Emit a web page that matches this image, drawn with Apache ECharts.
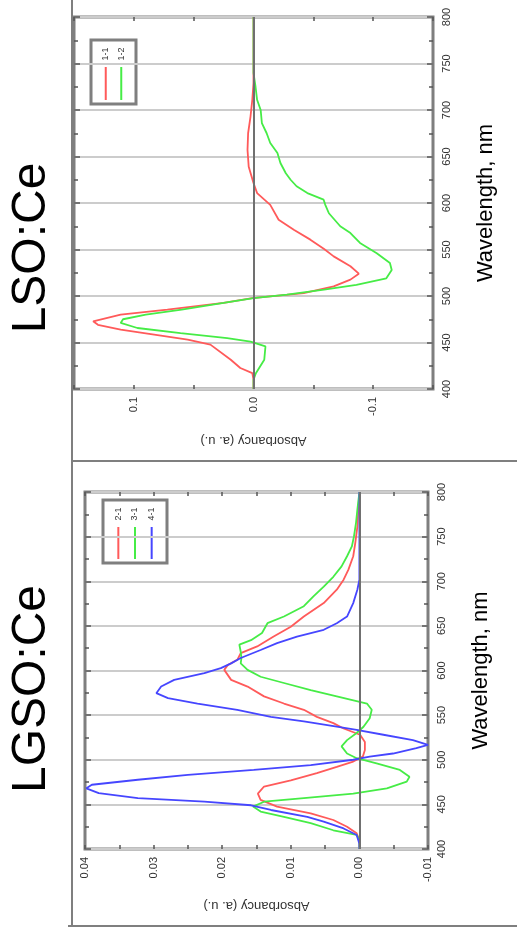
<!DOCTYPE html>
<html>
<head>
<meta charset="utf-8">
<script src="https://cdn.jsdelivr.net/npm/echarts@6/dist/echarts.min.js"></script>
<style>
html,body{margin:0;padding:0;background:#fff;}
#chart{width:517px;height:936px;}
</style>
</head>
<body>
<div id="chart"></div>
<script>
// ---- LSO:Ce panel ----
const lsoRedWl = [400,410,417,422.6,431.5,447.7,453,458.4,463.8,469,472.8,480,485.3,492.5,497.8,503,510.4,517.6,524,532,542.6,550.5,560.6,571,582,598,610.7,621.5,639,657,675,693,711,729,760,800];
const lsoRed   = [0,0,0.001,0.011,0.019,0.036,0.055,0.083,0.111,0.130,0.134,0.111,0.072,0.025,0.001,-0.042,-0.067,-0.081,-0.088,-0.081,-0.067,-0.059,-0.0475,-0.034,-0.021,-0.014,-0.003,0,0.004,0.005,0.0045,0.0025,0.001,0,0,0];
const lsoGreenWl = [400,410,417,431.5,445.9,451,454.8,460,465.6,471,475,480,485.3,492.5,497.8,501.4,506.8,512,519,528,535.5,546,557,567.7,575,589,598,603.6,610.7,618,625,632,643,653.7,664.5,675,686,700,711,725,740,800];
const lsoGreen   = [0,0,-0.002,-0.009,-0.010,0.0025,0.022,0.061,0.097,0.111,0.109,0.09,0.06,0.025,0,-0.028,-0.059,-0.086,-0.111,-0.1155,-0.114,-0.103,-0.089,-0.081,-0.0725,-0.063,-0.060,-0.0586,-0.045,-0.036,-0.031,-0.027,-0.0225,-0.020,-0.014,-0.011,-0.007,-0.006,-0.003,-0.0017,0,0];
const lsoLegend = ['1-1','1-2'];
const lsoXLabels = [-0.1, 0, 0.1];

// ---- LGSO:Ce panel ----
const lgsoRedWl = [400,410,417.6,425,432.5,440,447.5,455,462,470,477,485,492,498,503.5,511,520,528,535,541,548,556,563,571,582,589.5,600.7,606,612,619.5,627,638,649,660.5,675.5,690.5,701.7,713,728,743,761,787.6,800];
const lgsoRed   = [0,0,0.0004,0.0018,0.0038,0.0071,0.012,0.0144,0.0148,0.0139,0.0100,0.0062,0.0033,0.0009,-0.0005,-0.0008,-0.0008,-0.0001,0.0023,0.0038,0.0062,0.0081,0.011,0.0139,0.0163,0.0187,0.0197,0.0192,0.0178,0.0173,0.0149,0.0125,0.0100,0.0081,0.0052,0.0033,0.0023,0.0016,0.0009,0.0006,0.0003,0.0001,0];
const lgsoGreenWl = [400,410,415.7,421,429,436,442,447.5,453,457,462,468,475.5,481,488.6,496,501.7,507,515,522,530,537,546.5,556,563,571,578,586,593,600.7,608,614,621,629,634,642,653,660.5,672,683,694,705,716.6,728,739,750,765,780,800];
const lgsoGreen   = [0,0,0.0004,0.0038,0.0071,0.011,0.0144,0.0155,0.0139,0.0081,0.0009,-0.0040,-0.0069,-0.0073,-0.0059,-0.0025,0.0004,0.0018,0.0026,0.0018,0.0004,-0.0006,-0.0015,-0.0018,-0.0011,0.0033,0.0071,0.011,0.0144,0.0163,0.0173,0.0172,0.0173,0.0175,0.0158,0.0142,0.0134,0.011,0.0081,0.0067,0.0052,0.0038,0.0026,0.0018,0.0011,0.0008,0.0005,0.0003,0];
const lgsoBlueWl = [400,406,415.7,423,430.6,436,443.7,449,453,457,462.6,468,472,477.6,483,488.6,494,500,503.5,507,513,516.6,522,528,533.5,537,543,548,556,563,569,574.6,582,589.5,597,602.6,608,614,623,630.6,638,645.6,653,660.5,675.5,690.5,701.7,750,800];
const lgsoBlue   = [0,0,0.0004,0.0023,0.0052,0.0076,0.0129,0.0158,0.0226,0.0323,0.038,0.0398,0.039,0.0323,0.025,0.0154,0.0071,0.0009,-0.0015,-0.0049,-0.0083,-0.0100,-0.0078,-0.0035,0.0004,0.0033,0.0081,0.0129,0.0178,0.0236,0.0279,0.0296,0.0289,0.027,0.0226,0.0202,0.0187,0.0173,0.0144,0.012,0.0091,0.0052,0.0033,0.0018,0.0009,0.0003,0,0,0];
const lgsoLegend = ['2-1','3-1','4-1'];
const lgsoXLabels = [-0.01, 0, 0.01, 0.02, 0.03, 0.04];

const wlTicks = [400,450,500,550,600,650,700,750,800];

const RED = '#ff5a5a', GREEN = '#46ec46', BLUE = '#4646ff';
const FONT = '"Liberation Sans", Arial, sans-serif';
const BORDER = '#7f7f7f';

function pairs(wl, v){ return wl.map((w,i)=>[v[i], w]); }
function labelFmt(list, digits){
  return function(v){
    for (const t of list){ if (Math.abs(v - t) < 1e-9) return t.toFixed(digits); }
    return '';
  };
}
function wlFmt(v){ return wlTicks.indexOf(Math.round(v)) >= 0 ? String(Math.round(v)) : ''; }

function valueAxisPair(grid, min, max, interval, list, digits, nameGap){
  const common = {
    gridIndex: grid, type: 'value', min: min, max: max, interval: interval, inverse: true,
    axisLine: {show: false, onZero: false}, splitLine: {show: false},
    axisTick: {show: true, inside: true, length: 4, lineStyle: {color: '#555', width: 1.5}}
  };
  return [
    Object.assign({}, common, {
      position: 'bottom',
      name: 'Absorbancy (a. u.)', nameLocation: 'middle', nameGap: nameGap, nameRotate: 180,
      nameTextStyle: {fontFamily: FONT, fontSize: 13, color: '#333'},
      axisLabel: {show: true, rotate: 90, margin: 8, fontFamily: FONT, fontSize: 11, color: '#333',
                  formatter: labelFmt(list, digits)}
    }),
    Object.assign({}, common, {position: 'top', axisLabel: {show: false}})
  ];
}
function wlAxisPair(grid){
  const common = {
    gridIndex: grid, type: 'value', min: 400, max: 800, interval: 50,
    axisLine: {show: false, onZero: false},
    axisTick: {show: true, inside: true, length: 6, lineStyle: {color: '#555', width: 1.5}},
    minorTick: {show: true, splitNumber: 2, length: 4, lineStyle: {color: '#555', width: 1.5}}
  };
  return [
    Object.assign({}, common, {
      position: 'right',
      name: 'Wavelength, nm', nameLocation: 'middle', nameGap: 42, nameRotate: 90,
      nameTextStyle: {fontFamily: FONT, fontSize: 22, color: '#000'},
      splitLine: {show: true, lineStyle: {color: '#cccccc', width: 2}},
      axisLabel: {show: true, rotate: 90, margin: 8, fontFamily: FONT, fontSize: 11, color: '#333', formatter: wlFmt}
    }),
    Object.assign({}, common, {position: 'left', splitLine: {show: false}, axisLabel: {show: false}})
  ];
}

const lsoX = valueAxisPair(0, -0.15, 0.15, 0.05, lsoXLabels, 1, 45);
const lgsoX = valueAxisPair(1, -0.01, 0.04, 0.005, lgsoXLabels, 2, 50);
const lsoY = wlAxisPair(0);
const lgsoY = wlAxisPair(1);

function lineSeries(name, color, data, xi, yi){
  return {name: name, type: 'line', xAxisIndex: xi, yAxisIndex: yi, data: data,
          symbol: 'none', smooth: false, z: 3, silent: true,
          lineStyle: {color: color, width: 1.8}};
}
function zeroLine(xi, yi){
  return {type: 'line', xAxisIndex: xi, yAxisIndex: yi, data: [], z: 2, silent: true,
          markLine: {silent: true, symbol: ['none','none'], label: {show: false},
                     lineStyle: {color: '#707070', width: 2, type: 'solid'},
                     data: [{xAxis: 0}]}};
}

function legendGroup(x, y, w, h, labels, colors){
  const children = [{type: 'rect', shape: {x: 0, y: 0, width: w, height: h},
                     style: {fill: '#fff', stroke: BORDER, lineWidth: 3}}];
  const step = (w - 14) / labels.length;
  labels.forEach((lab, i) => {
    const cx = 7 + step * (i + 0.5);
    children.push({type: 'text', x: cx, y: 14, rotation: Math.PI / 2,
                   style: {text: lab, fontFamily: FONT, fontSize: 9, fill: '#333',
                           align: 'center', verticalAlign: 'middle'}});
    children.push({type: 'line', shape: {x1: cx, y1: 27, x2: cx, y2: h - 4},
                   style: {stroke: colors[i], lineWidth: 2}});
  });
  return {type: 'group', x: x, y: y, z: 10, children: children};
}

const option = {
  backgroundColor: '#fff',
  animation: false,
  grid: [
    {left: 74, top: 17, width: 359, height: 372, show: true, borderColor: BORDER, borderWidth: 3, backgroundColor: 'transparent'},
    {left: 85, top: 492, width: 343, height: 357, show: true, borderColor: BORDER, borderWidth: 3, backgroundColor: 'transparent'}
  ],
  xAxis: [lsoX[0], lsoX[1], lgsoX[0], lgsoX[1]],
  yAxis: [lsoY[0], lsoY[1], lgsoY[0], lgsoY[1]],
  series: [
    zeroLine(0, 0),
    lineSeries(lsoLegend[0], RED, pairs(lsoRedWl, lsoRed), 0, 0),
    lineSeries(lsoLegend[1], GREEN, pairs(lsoGreenWl, lsoGreen), 0, 0),
    zeroLine(2, 2),
    lineSeries(lgsoLegend[0], RED, pairs(lgsoRedWl, lgsoRed), 2, 2),
    lineSeries(lgsoLegend[1], GREEN, pairs(lgsoGreenWl, lgsoGreen), 2, 2),
    lineSeries(lgsoLegend[2], BLUE, pairs(lgsoBlueWl, lgsoBlue), 2, 2)
  ],
  graphic: [
    {type: 'line', shape: {x1: 72, y1: 0, x2: 72, y2: 926}, style: {stroke: BORDER, lineWidth: 2}, z: 20},
    {type: 'line', shape: {x1: 72, y1: 461, x2: 517, y2: 461}, style: {stroke: BORDER, lineWidth: 2}, z: 20},
    {type: 'line', shape: {x1: 68, y1: 926, x2: 517, y2: 926}, style: {stroke: BORDER, lineWidth: 2}, z: 20},
    {type: 'text', x: 32, y: 248, rotation: Math.PI / 2,
     style: {text: 'LSO:Ce', fontFamily: FONT, fontSize: 48, fill: '#000', align: 'center', verticalAlign: 'middle'}},
    {type: 'text', x: 32, y: 689, rotation: Math.PI / 2,
     style: {text: 'LGSO:Ce', fontFamily: FONT, fontSize: 48, fill: '#000', align: 'center', verticalAlign: 'middle'}},
    legendGroup(91, 40, 45, 64, lsoLegend, [RED, GREEN]),
    legendGroup(103, 500, 64, 63, lgsoLegend, [RED, GREEN, BLUE])
  ]
};

const chart = echarts.init(document.getElementById('chart'), null, {renderer: 'canvas'});
chart.setOption(option);
</script>
</body>
</html>
